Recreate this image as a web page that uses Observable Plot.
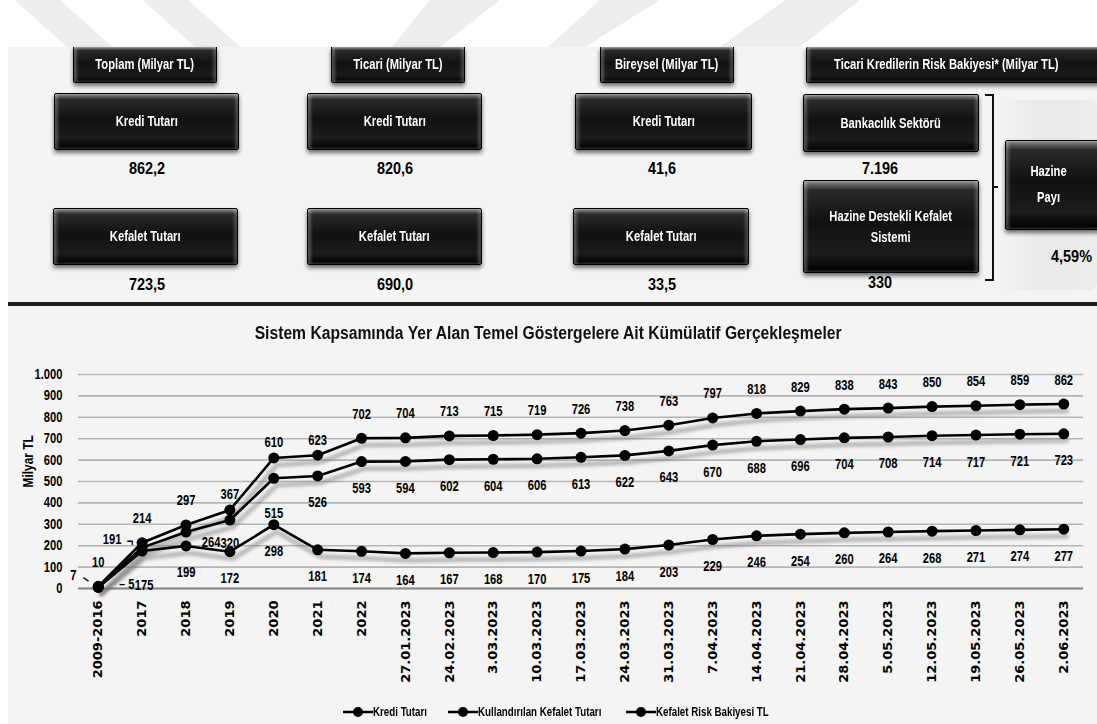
<!DOCTYPE html>
<html>
<head>
<meta charset="utf-8">
<script src="https://cdn.jsdelivr.net/npm/d3@7"></script>
<script src="https://cdn.jsdelivr.net/npm/@observablehq/plot@0.6"></script>
<style>
  html, body { margin: 0; padding: 0; }
  body { width: 1097px; height: 724px; position: relative; background: #fff; overflow: hidden; font-family: "Liberation Sans", Arial, sans-serif; }
  .abs { position: absolute; }
  .btn {
    position: absolute; box-sizing: border-box; display: flex; align-items: center; justify-content: center;
    text-align: center; color: #fff; font-weight: bold; font-size: 14px; line-height: 1.5;
    background: linear-gradient(#8a8a8a 0%, #2a2a2a 10%, #111 45%, #1c1c1c 80%, #000 100%);
    border: 1px solid #000; border-radius: 2px;
    box-shadow: inset 3px 0 3px rgba(255,255,255,0.25), inset -3px 0 3px rgba(255,255,255,0.2), 0 3px 4px rgba(0,0,0,0.55);
  }
  .btn > span { display: inline-block; transform: scaleX(0.8); white-space: nowrap; }
  .val { position: absolute; font-weight: bold; font-size: 17px; color: #000; transform: translate(-50%, -50%) scaleX(0.85); white-space: nowrap; }
  .legend { position: absolute; top: 705px; left: 343px; height: 16px; font-size: 12.5px; font-weight: bold; color: #000; }
  .legend .item { position: absolute; top: 0; display: flex; align-items: center; white-space: nowrap; }
  .legend .item span { display: inline-block; transform-origin: left center; transform: scaleX(0.78); }
</style>
</head>
<body>
<svg class="abs" style="left:0;top:0" width="1097" height="47">
  <polygon points="15,0 60,0 112,47 67,47" fill="#ededed"/>
  <polygon points="143,0 188,0 240,47 195,47" fill="#ededed"/>
  <polygon points="430,0 500,0 440,47 392,47" fill="#ededed"/>
  <polygon points="600,0 660,0 585,47 548,47" fill="#ededed"/>
  <polygon points="785,0 860,0 800,47 720,47" fill="#ededed"/>
</svg>
<div class="abs" style="left:8px;top:47px;width:1089px;height:255px;background:#f4f4f4"></div>
<div class="abs" style="left:998px;top:100px;width:99px;height:190px;background:linear-gradient(90deg,#f4f4f4,#e9e9e9 40%,#ececec);border-radius:8px"></div>
<div class="abs" style="left:8px;top:306px;width:1089px;height:418px;background:#f4f4f4"></div>
<div class="abs" style="left:8px;top:302px;width:1089px;height:4px;background:#1e1e1e"></div>
<div id="panel"></div>
<div class="abs" style="left:0;top:323px;width:1097px;text-align:center;font-weight:bold;font-size:18px;color:#111"><span id="title" style="display:inline-block;white-space:nowrap">Sistem Kapsamında Yer Alan Temel Göstergelere Ait Kümülatif Gerçekleşmeler</span></div>
<div class="abs" id="chart" style="left:0;top:310px"></div>
<div class="legend" id="legend"></div>
<script>
// ---------- data ----------
const categories = ["2009-2016","2017","2018","2019","2020","2021","2022","27.01.2023","24.02.2023","3.03.2023","10.03.2023","17.03.2023","24.03.2023","31.03.2023","7.04.2023","14.04.2023","21.04.2023","28.04.2023","5.05.2023","12.05.2023","19.05.2023","26.05.2023","2.06.2023"];
const krediTutari   = [10,214,297,367,610,623,702,704,713,715,719,726,738,763,797,818,829,838,843,850,854,859,862];
const kefaletTutari = [7,191,264,320,515,526,593,594,602,604,606,613,622,643,670,688,696,704,708,714,717,721,723];
const riskBakiyesi  = [5,175,199,172,298,181,174,164,167,168,170,175,184,203,229,246,254,260,264,268,271,274,277];
const seriesNames = ["Kredi Tutarı","Kullandırılan Kefalet Tutarı","Kefalet Risk Bakiyesi TL"];
const yTicks = [0,100,200,300,400,500,600,700,800,900,1000];

const groupHeaders = ["Toplam (Milyar TL)","Ticari (Milyar TL)","Bireysel (Milyar TL)"];
const krediValues = ["862,2","820,6","41,6"];
const kefaletValues = ["723,5","690,0","33,5"];
const riskHeader = "Ticari Kredilerin Risk Bakiyesi* (Milyar TL)";
const riskLabels = ["Bankacılık Sektörü","Hazine Destekli Kefalet Sistemi","Hazine Payı"];
const riskValues = ["7.196","330","4,59%"];

// ---------- top infographic ----------
const panel = document.getElementById("panel");
function btn(html, l, t, w, h, extra) {
  const d = document.createElement("div");
  d.className = "btn"; d.innerHTML = "<span>" + html + "</span>";
  Object.assign(d.style, {left: l + "px", top: t + "px", width: w + "px", height: h + "px"}, extra || {});
  panel.appendChild(d);
  return d;
}
function val(text, cx, cy, extra) {
  const d = document.createElement("div");
  d.className = "val"; d.textContent = text;
  Object.assign(d.style, {left: cx + "px", top: cy + "px"}, extra || {});
  panel.appendChild(d);
}
const hdr = [[73,144],[331,134],[600,134]];
const kb = [[54,185],[307,175],[575,177]];
const kf = [[53,185],[307,175],[573,176]];
const vx = [147,395,662];
groupHeaders.forEach((h,i) => {
  btn(h, hdr[i][0], 47, hdr[i][1], 36, {borderTop:"none", borderRadius:"0 0 2px 2px"});
  btn("Kredi Tutarı", kb[i][0], 93, kb[i][1], 57);
  val(krediValues[i], vx[i], 169);
  btn("Kefalet Tutarı", kf[i][0], 208, kf[i][1], 57);
  val(kefaletValues[i], vx[i], 285);
});
btn(riskHeader, 806, 47, 300, 36, {borderTop:"none", justifyContent:"flex-start", paddingLeft:"27px"}).firstChild.style.transformOrigin = "0 50%";
btn(riskLabels[0], 803, 94, 176, 58);
val(riskValues[0], 880, 169);
btn("Hazine Destekli Kefalet<br>Sistemi", 803, 180, 176, 93);
val(riskValues[1], 880, 283);
btn("Hazine<br>Payı", 1005, 140, 100, 90, {justifyContent:"flex-start", paddingLeft:"20px", lineHeight:"1.85"});
val(riskValues[2], 1092, 257, {transform:"translate(-100%, -50%) scaleX(0.85)", transformOrigin:"right center"});
const br = document.createElementNS("http://www.w3.org/2000/svg","svg");
br.setAttribute("width","20"); br.setAttribute("height","190");
br.style.cssText = "position:absolute;left:982px;top:92px";
br.innerHTML = '<path d="M3,3 H11 V188 H3 M11,95 H16" fill="none" stroke="#111" stroke-width="2"/>';
panel.appendChild(br);

// title fit
const t = document.getElementById("title");
t.style.transform = "scaleX(" + (587 / t.getBoundingClientRect().width) + ")";

// ---------- chart ----------
const rows = [];
[krediTutari, kefaletTutari, riskBakiyesi].forEach((arr, s) =>
  arr.forEach((v, i) => rows.push({series: seriesNames[s], s, i, cat: categories[i], value: v})));
const kr = rows.filter(d => d.s === 0), kf2 = rows.filter(d => d.s === 1), rk = rows.filter(d => d.s === 2);

const trFmt = d3.formatLocale({decimal: ",", thousands: ".", grouping: [3], currency: ["", ""]}).format(",");
const lab = {x: "cat", y: "value", text: d => String(d.value), fontSize: 14, fontWeight: "bold", fill: "#000"};

const chart = Plot.plot({
  width: 1097, height: 378,
  marginTop: 64, marginBottom: 100, marginLeft: 78, marginRight: 14,
  x: {type: "point", domain: categories, padding: 0.45, round: false},
  y: {domain: [0, 1000]},
  style: {background: "transparent", fontFamily: '"Liberation Sans", Arial, sans-serif', color: "#000", overflow: "visible"},
  marks: [
    Plot.ruleY(yTicks, {stroke: "#b5b5b5", strokeWidth: 1.6}),
    Plot.ruleY([0], {stroke: "#888", strokeWidth: 2}),
    Plot.axisY({ticks: yTicks, tickSize: 0, tickPadding: 16, tickFormat: trFmt, fontSize: 14, fontWeight: "bold", label: null}),
    Plot.axisX({tickSize: 0, tickPadding: 12, tickRotate: -90, fontSize: 13, fontWeight: "bold", fontFamily: "DejaVu Sans", label: null}),
    Plot.text(["Milyar TL"], {frameAnchor: "left", dx: -50, dy: 6, rotate: -90, fontSize: 14, fontWeight: "bold"}),
    Plot.line(rows, {x: "cat", y: "value", z: "series", stroke: "#666", strokeOpacity: 0.4, strokeWidth: 5, dx: 3, dy: 7}),
    Plot.line(rows, {x: "cat", y: "value", z: "series", stroke: "#000", strokeWidth: 2.6}),
    Plot.dot(rows, {x: "cat", y: "value", r: 5.5, fill: "#000"}),
    Plot.text(kr.filter(d => d.i < 3 || d.i > 5), {...lab, dy: -24}),
    Plot.text(kr.filter(d => d.i >= 3 && d.i <= 5), {...lab, dy: -15}),
    Plot.text(kf2.filter(d => d.i === 0), {...lab, dx: -25, dy: -11}),
    Plot.text(kf2.filter(d => d.i === 1), {...lab, dx: -30, dy: -8}),
    Plot.text(kf2.filter(d => d.i === 2), {...lab, dx: 25, dy: 11}),
    Plot.text(kf2.filter(d => d.i === 3), {...lab, dy: 23}),
    Plot.text(kf2.filter(d => d.i === 4), {...lab, dy: 35}),
    Plot.text(kf2.filter(d => d.i > 4), {...lab, dy: 27}),
    Plot.text(rk.filter(d => d.i === 0), {...lab, dx: 33, dy: -3}),
    Plot.text(rk.filter(d => d.i === 1), {...lab, dx: 2, dy: 34}),
    Plot.text(rk.filter(d => d.i > 1), {...lab, dy: 27}),
    Plot.text(kf2.filter(d => d.i === 0), {x: "cat", y: "value", text: () => "–", dx: -12, dy: -8, rotate: 35, fontSize: 13, fontWeight: "bold"}),
    Plot.text(kf2.filter(d => d.i === 1), {x: "cat", y: "value", text: () => "¬", dx: -12, dy: -6, fontSize: 14, fontWeight: "bold"}),
    Plot.text(rk.filter(d => d.i === 0), {x: "cat", y: "value", text: () => "–", dx: 24, dy: -4, fontSize: 13, fontWeight: "bold"})
  ]
});
document.getElementById("chart").appendChild(chart);
// soft shadow for the offset gray lines
const svgNS = "http://www.w3.org/2000/svg";
const defs = document.createElementNS(svgNS, "defs");
defs.innerHTML = '<filter id="soft" x="-5%" y="-20%" width="110%" height="140%"><feGaussianBlur stdDeviation="1.8"/></filter>';
chart.insertBefore(defs, chart.firstChild);
const lineGroups = chart.querySelectorAll('g[aria-label="line"]');
if (lineGroups.length) lineGroups[0].setAttribute("filter", "url(#soft)");
// condense Liberation Sans text horizontally (original uses a narrow face)
d3.select(chart).selectAll("text").each(function() {
  const el = this;
  if (el.closest('g[aria-label="x-axis tick label"]')) return;
  const tr = el.getAttribute("transform") || "";
  if (/rotate/.test(tr)) { if (el.textContent === "Milyar TL") el.setAttribute("transform", tr + " scale(0.85,1)"); return; }
  el.setAttribute("transform", tr + " scale(0.8,1)");
});

// ---------- legend ----------
const lg = document.getElementById("legend");
const lgLeft = [0, 105, 283];
seriesNames.forEach((n, i) => {
  const s = document.createElement("div");
  s.className = "item"; s.style.left = lgLeft[i] + "px";
  s.innerHTML = '<svg width="30" height="14"><line x1="0" y1="7" x2="30" y2="7" stroke="#000" stroke-width="2.5"/><circle cx="15" cy="7" r="5" fill="#000"/></svg><span></span>';
  s.querySelector("span").textContent = n;
  lg.appendChild(s);
});
</script>
</body>
</html>
